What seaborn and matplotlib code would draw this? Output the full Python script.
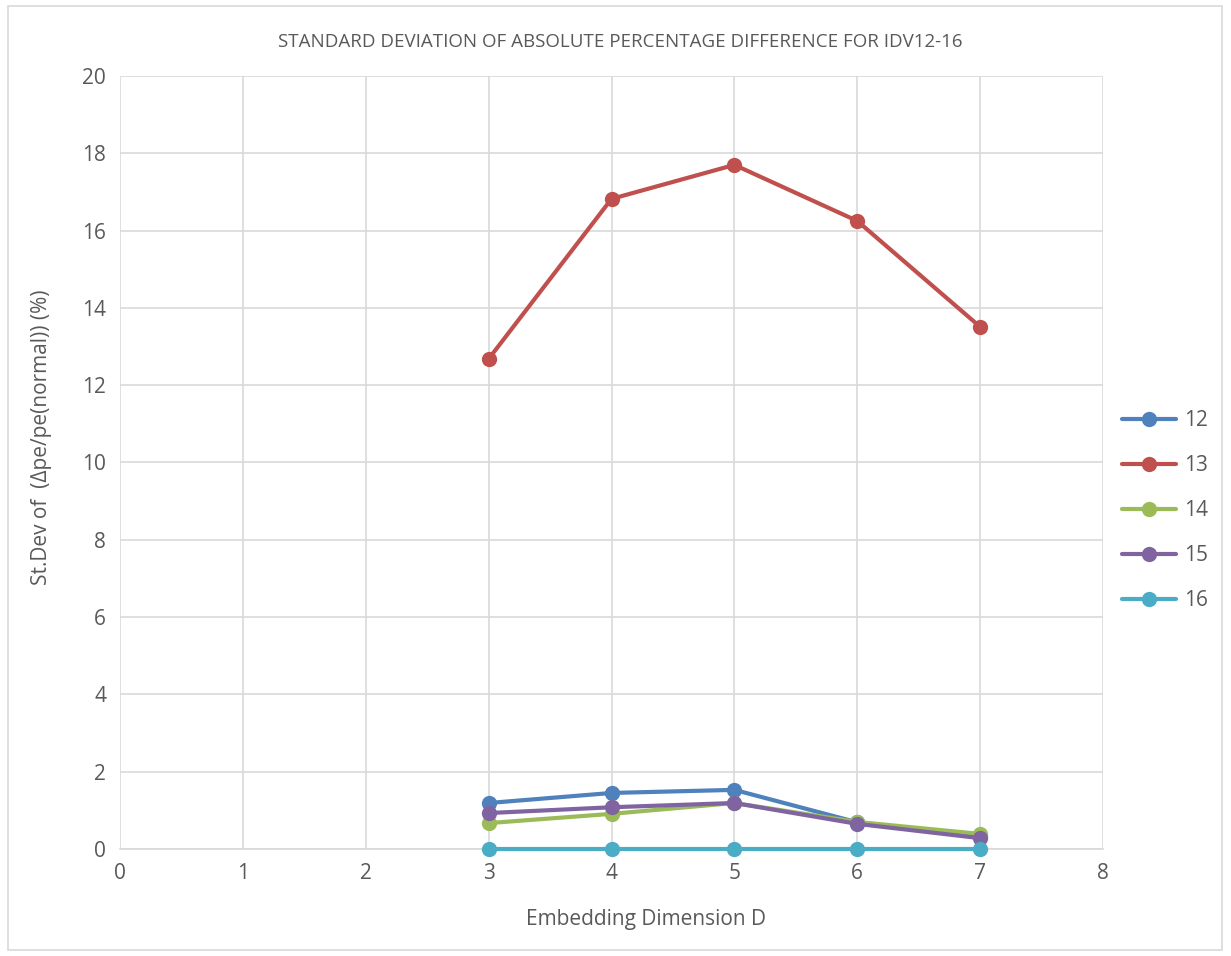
import matplotlib
matplotlib.use("Agg")
import matplotlib.pyplot as plt
import seaborn as sns
import pandas as pd

# Embedding dimensions and standard deviation per IDV case
dims = [3, 4, 5, 6, 7]
idv12 = [1.19, 1.45, 1.53, 0.69, 0.33]
idv13 = [12.68, 16.82, 17.70, 16.25, 13.51]
idv14 = [0.67, 0.91, 1.19, 0.70, 0.39]
idv15 = [0.93, 1.08, 1.19, 0.65, 0.28]
idv16 = [0.0, 0.0, 0.0, 0.0, 0.0]
series_names = ["12", "13", "14", "15", "16"]
palette = ["#4F81BD", "#C0504D", "#9BBB59", "#8064A2", "#4BACC6"]

rows = []
for name, vals in zip(series_names, [idv12, idv13, idv14, idv15, idv16]):
    for d, v in zip(dims, vals):
        rows.append({"D": d, "value": v, "IDV": name})
df = pd.DataFrame(rows)

sns.set_theme(style="white")
plt.rcParams["font.family"] = ["Open Sans", "DejaVu Sans"]

fig = plt.figure(figsize=(12.31, 9.56), dpi=100)
ax = fig.add_axes([120 / 1231, 1 - 849 / 956, (1103 - 120) / 1231, (849 - 76) / 956])

sns.lineplot(data=df, x="D", y="value", hue="IDV", palette=palette,
             marker="o", markersize=11, markeredgewidth=0, linewidth=3,
             ax=ax, legend=True)

# keep the zero-valued series visible on top of the baseline
for line in ax.lines:
    line.set_clip_on(False)
    line.set_zorder(4)

ax.set_xlim(0, 8)
ax.set_ylim(0, 20)
ax.set_xticks(range(0, 9))
ax.set_yticks(range(0, 21, 2))
ax.grid(True, color="#d9d9d9", linewidth=1.2)
ax.set_axisbelow(True)
for s in ["top", "right", "left"]:
    ax.spines[s].set_visible(False)
ax.spines["bottom"].set_color("#d9d9d9")
ax.spines["bottom"].set_linewidth(1.2)
ax.spines["bottom"].set_zorder(1)
ax.tick_params(axis="both", length=0, labelsize=15, colors="#595959", pad=10)

ax.set_xlabel("Embedding Dimension D", fontsize=15, color="#595959")
ax.set_ylabel("St.Dev of  (\u0394pe/pe(normal)) (%)", fontsize=15, color="#595959")
ax.xaxis.set_label_coords(0.535, -0.078)
ax.yaxis.set_label_coords(-0.069, 0.533)
fig.text(620 / 1231, 1 - 42 / 956, "STANDARD DEVIATION OF ABSOLUTE PERCENTAGE DIFFERENCE FOR IDV12-16",
         ha="center", va="center", fontsize=13.5, color="#595959")

leg = ax.legend(loc="center left", bbox_to_anchor=(1.0, 0.438), frameon=False,
                fontsize=15, labelcolor="#595959", handlelength=2.6, labelspacing=1.15,
                handletextpad=0.4)

# Outer chart border
fig.patches.append(plt.Rectangle((8 / 1231, 6 / 956), 1214 / 1231, 944 / 956,
                                 transform=fig.transFigure, fill=False,
                                 edgecolor="#d9d9d9", linewidth=1.2))

fig.savefig("out.png", dpi=100)
